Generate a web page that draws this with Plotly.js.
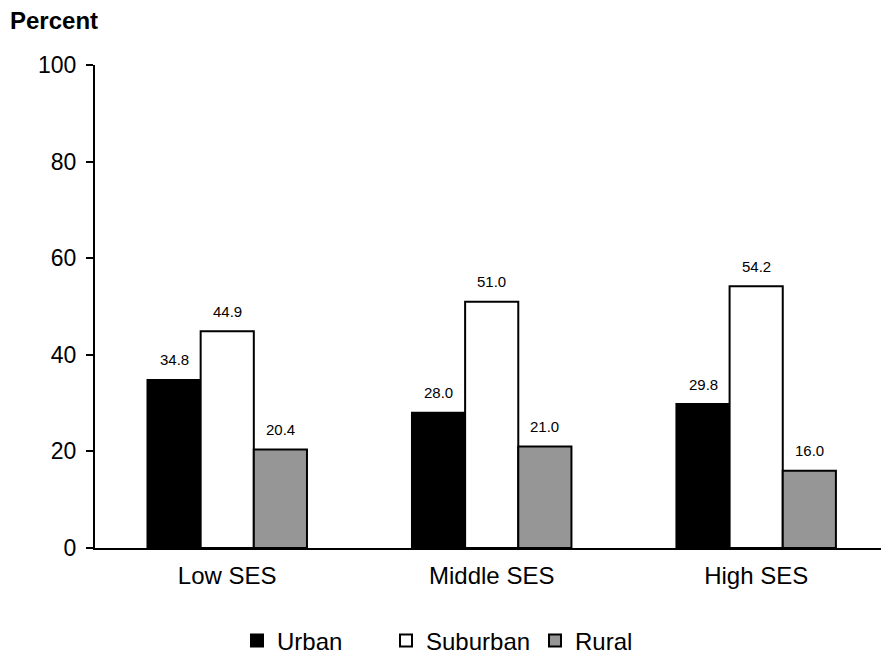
<!DOCTYPE html>
<html>
<head>
<meta charset="utf-8">
<script src="https://cdn.plot.ly/plotly-3.0.1.min.js"></script>
<style>html,body{margin:0;padding:0;background:#fff;}#chart{width:881px;height:656px;}</style>
</head>
<body>
<div id="chart"></div>
<script>
var categories = ["Low SES", "Middle SES", "High SES"];
var seriesNames = ["Urban", "Suburban", "Rural"];
var urban = [34.8, 28.0, 29.8];
var suburban = [44.9, 51.0, 54.2];
var rural = [20.4, 21.0, 16.0];
var yTicks = [0, 20, 40, 60, 80, 100];

var seriesValues = [urban, suburban, rural];
var fills = ["#000000", "#ffffff", "#969696"];
var FONT = "Arial, 'Liberation Sans', sans-serif";
var bargap = 0.397;
var bw = (1 - bargap) / 3;

var traces = seriesValues.map(function (vals, i) {
  return {
    type: "bar",
    name: seriesNames[i],
    x: categories,
    y: vals,
    marker: { color: fills[i], line: { color: "#000", width: 2 } },
    hoverinfo: "skip"
  };
});

var annotations = [];
seriesValues.forEach(function (vals, i) {
  vals.forEach(function (v, j) {
    annotations.push({
      x: j + (i - 1) * bw, y: v, xref: "x", yref: "y",
      text: v.toFixed(1), showarrow: false,
      yanchor: "middle", yshift: 20,
      font: { family: FONT, size: 15, color: "#000" }
    });
  });
});

var layout = {
  width: 881, height: 656,
  margin: { l: 95, r: 0, t: 65, b: 108 },
  paper_bgcolor: "#fff", plot_bgcolor: "#fff",
  barmode: "group", bargap: bargap, bargroupgap: 0,
  showlegend: true,
  title: {
    text: "<b>Percent</b>", xref: "container", yref: "container",
    x: 10 / 881, xanchor: "left", y: 1 - 21 / 656, yanchor: "middle",
    font: { family: FONT, size: 24, color: "#000" }
  },
  xaxis: {
    type: "category", range: [-0.5, 2.472],
    showline: true, linecolor: "#000", linewidth: 2,
    ticks: "", showgrid: false, zeroline: false,
    ticklabelstandoff: 5,
    tickfont: { family: FONT, size: 24, color: "#000" }
  },
  yaxis: {
    range: [0, 100], tickvals: yTicks, ticktext: yTicks.map(String),
    showline: true, linecolor: "#000", linewidth: 2,
    ticks: "outside", ticklen: 7, tickwidth: 2, tickcolor: "#000",
    showgrid: false, zeroline: false,
    ticklabelstandoff: 5,
    tickfont: { family: FONT, size: 23, color: "#000" }
  },
  legend: {
    orientation: "h", xref: "container", yref: "container",
    x: 237 / 881, xanchor: "left", y: 1 - 641 / 656, yanchor: "middle",
    entrywidth: 104, entrywidthmode: "pixels",
    font: { family: FONT, size: 24, color: "#000" },
    itemclick: false, traceorder: "normal"
  },
  annotations: annotations
};

Plotly.newPlot("chart", traces, layout, { displayModeBar: false, staticPlot: true });
</script>
</body>
</html>
